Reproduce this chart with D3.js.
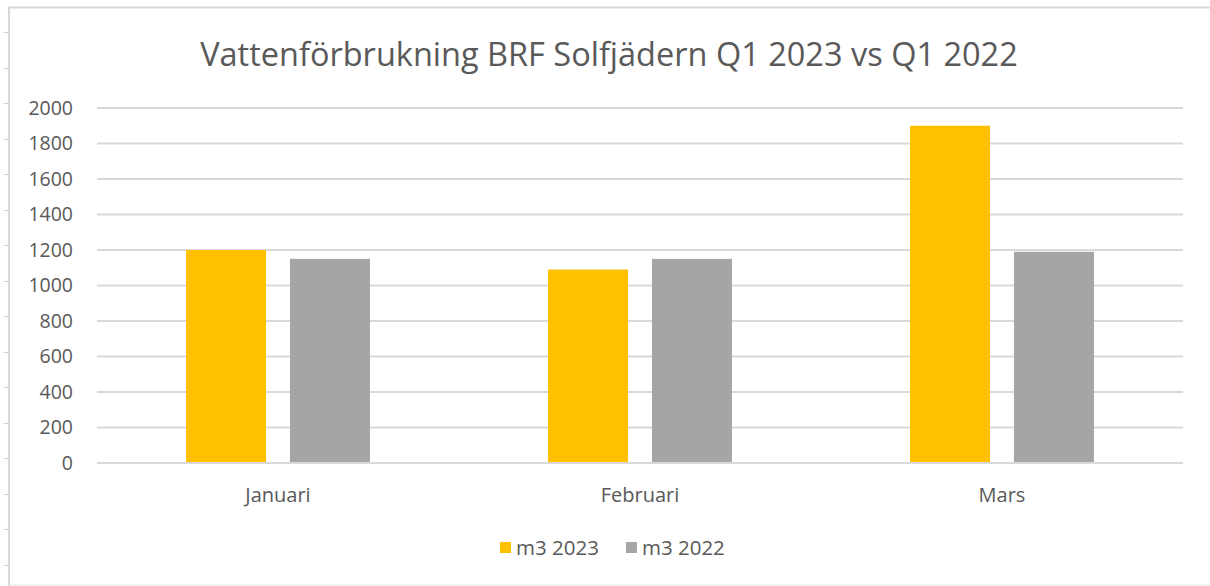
<!DOCTYPE html>
<html>
<head>
<meta charset="utf-8">
<script src="https://cdn.jsdelivr.net/npm/d3@7"></script>
<style>
  body { margin: 0; background: #fff; }
  text { font-family: "Open Sans", "Noto Sans", sans-serif; fill: #595959; }
</style>
</head>
<body>
<div id="chart"></div>
<script>
// data
var months = ["Januari", "Februari", "Mars"];
var seriesNames = ["m3 2023", "m3 2022"];
var m3_2023 = [1200, 1090, 1900];
var m3_2022 = [1150, 1150, 1190];
var yTicks = [0, 200, 400, 600, 800, 1000, 1200, 1400, 1600, 1800, 2000];
var colors = ["#FFC000", "#A5A5A5"];

var W = 1210, H = 586;
var margin = { top: 108, right: 27, bottom: 123, left: 97 };
var width = W - margin.left - margin.right,
  height = H - margin.top - margin.bottom;

var svg = d3.select("#chart").append("svg")
  .attr("width", W)
  .attr("height", H);

// sheet edge with row ticks (screenshot frame)
var frame = svg.append("g");
frame.append("path")
  .attr("d", "M1210,7.5 H9 V586")
  .attr("fill", "none").attr("stroke", "#d9d9d9").attr("stroke-width", 2);
frame.append("line")
  .attr("x1", 9).attr("x2", 1210).attr("y1", 585).attr("y2", 585)
  .attr("stroke", "#e6e6e6").attr("stroke-width", 1);
var rowTicks = d3.range(32, 580, 35.5);
frame.selectAll(".rt").data(rowTicks).enter().append("line")
  .attr("x1", 4).attr("x2", 8)
  .attr("y1", function (d) { return Math.round(d) + 0.5; })
  .attr("y2", function (d) { return Math.round(d) + 0.5; })
  .attr("stroke", "#d0d0d0");

var g = svg.append("g")
  .attr("transform", "translate(" + margin.left + "," + margin.top + ")");

var x0 = d3.scaleBand().domain(months).range([0, width]).padding(0);
var y = d3.scaleLinear().domain([0, 2000]).range([height, 0]);

// gridlines
g.selectAll(".grid").data(yTicks.filter(function (d) { return d > 0; })).enter()
  .append("line")
  .attr("x1", 0).attr("x2", width)
  .attr("y1", function (d) { return y(d); })
  .attr("y2", function (d) { return y(d); })
  .attr("stroke", "#d9d9d9").attr("stroke-width", 2);

// y labels
g.selectAll(".ylab").data(yTicks).enter().append("text")
  .attr("x", -24)
  .attr("y", function (d) { return y(d); })
  .attr("dy", "0.35em")
  .attr("text-anchor", "end")
  .style("font-size", "19.5px")
  .text(function (d) { return d; });

// bars
var groupW = x0.bandwidth() * 0.508;
var x1 = d3.scaleBand().domain(seriesNames).range([0, groupW]).paddingInner(0.23);

var rows = months.map(function (m, i) {
  return { month: m, values: [m3_2023[i], m3_2022[i]] };
});

var groups = g.selectAll(".grp").data(rows).enter().append("g")
  .attr("transform", function (d) {
    return "translate(" + (x0(d.month) + (x0.bandwidth() - groupW) / 2) + ",0)";
  });

groups.selectAll("rect").data(function (d) {
  return d.values.map(function (v, j) { return { key: seriesNames[j], value: v, j: j }; });
}).enter().append("rect")
  .attr("x", function (d) { return x1(d.key); })
  .attr("width", x1.bandwidth())
  .attr("y", function (d) { return y(d.value); })
  .attr("height", function (d) { return height - y(d.value); })
  .attr("fill", function (d) { return colors[d.j]; });

// baseline
g.append("line")
  .attr("x1", 0).attr("x2", width)
  .attr("y1", y(0)).attr("y2", y(0))
  .attr("stroke", "#d9d9d9").attr("stroke-width", 2);

// category labels
g.selectAll(".xlab").data(months).enter().append("text")
  .attr("x", function (d) { return x0(d) + x0.bandwidth() / 2; })
  .attr("y", height + 39)
  .attr("text-anchor", "middle")
  .style("font-size", "20px")
  .text(function (d) { return d; });

// title
var title = svg.append("text")
  .attr("x", 609).attr("y", 66)
  .attr("text-anchor", "middle")
  .style("font-size", "32px")
  .text("Vattenförbrukning BRF Solfjädern Q1 2023 vs Q1 2022");
var tw = title.node().getComputedTextLength();
title.style("font-size", (32 * 818 / tw) + "px");

// legend
var legend = svg.append("g").attr("transform", "translate(500,548)");
var lx = 0;
seriesNames.forEach(function (s, i) {
  var item = legend.append("g").attr("transform", "translate(" + lx + ",0)");
  item.append("rect").attr("x", 0).attr("y", -6).attr("width", 11).attr("height", 11)
    .attr("fill", colors[i]);
  var t = item.append("text").attr("x", 16).attr("y", 0).attr("dy", "0.35em")
    .style("font-size", "20.5px").text(s);
  lx += 16 + t.node().getComputedTextLength() + 27;
});
</script>
</body>
</html>
